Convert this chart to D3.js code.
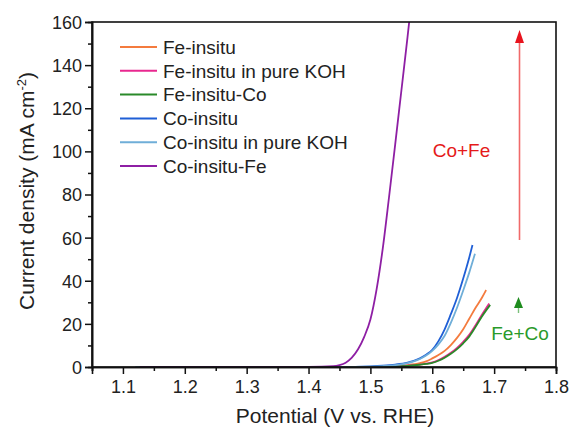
<!DOCTYPE html>
<html><head><meta charset="utf-8">
<script src="https://cdn.jsdelivr.net/npm/d3@7"></script>
<style>body{margin:0;background:#fff;} text{font-family:"Liberation Sans",Arial,sans-serif;}</style>
</head><body>
<svg id="c" width="573" height="430"></svg>
<script>
const seriesNames = ["Fe-insitu","Fe-insitu in pure KOH","Fe-insitu-Co","Co-insitu","Co-insitu in pure KOH","Co-insitu-Fe"];
const seriesColors = ["#F47B3E","#E8288F","#2A8A2A","#1F5FD6","#6FAED8","#8E1FA4"];
// [potential V, current mA cm-2]
const feInsitu = [[1.125,0],[1.45,0],[1.50,0.05],[1.52,0.15],[1.54,0.4],[1.56,0.9],[1.58,1.8],[1.59,2.6],[1.60,4.0],[1.61,5.6],[1.62,7.5],[1.63,10.2],[1.64,13.5],[1.65,17.5],[1.66,22.5],[1.67,27.5],[1.68,32],[1.687,35.7]];
const feInsituKOH = [[1.125,0],[1.45,0],[1.50,0.05],[1.52,0.12],[1.54,0.28],[1.56,0.6],[1.58,1.15],[1.59,1.55],[1.60,2.1],[1.61,3.2],[1.62,4.7],[1.63,6.6],[1.64,8.9],[1.65,11.7],[1.66,15.0],[1.67,19.4],[1.68,24.1],[1.692,29.4]];
const feInsituCo = [[1.125,0],[1.45,0],[1.50,0.04],[1.52,0.1],[1.54,0.25],[1.56,0.55],[1.58,1.05],[1.59,1.4],[1.60,1.9],[1.61,2.9],[1.62,4.3],[1.63,6.1],[1.64,8.3],[1.65,11],[1.66,14.2],[1.67,18.6],[1.68,23.3],[1.6936,28.8]];
const coInsitu = [[1.125,0],[1.45,0],[1.50,0.3],[1.52,0.6],[1.54,1.1],[1.56,2.0],[1.57,2.8],[1.58,4.0],[1.59,5.7],[1.60,8.0],[1.61,12],[1.62,17.5],[1.63,24.5],[1.64,32],[1.65,41],[1.66,51],[1.665,56.6]];
const coInsituKOH = [[1.12,0],[1.45,0],[1.50,0.2],[1.52,0.45],[1.54,0.9],[1.56,1.8],[1.57,2.6],[1.58,3.7],[1.59,5.3],[1.60,7.5],[1.61,10.5],[1.62,14.5],[1.63,20.5],[1.64,27.5],[1.65,35.5],[1.66,44],[1.669,52.5]];
const coInsituFe = [[1.127,0],[1.30,0],[1.40,0.1],[1.44,0.4],[1.45,0.9],[1.46,2.0],[1.47,4.3],[1.48,8.2],[1.49,14],[1.50,22],[1.51,36],[1.52,55],[1.53,78.5],[1.54,103],[1.55,128],[1.56,153],[1.565,166]];
const seriesData = [feInsitu, feInsituKOH, feInsituCo, coInsitu, coInsituKOH, coInsituFe];
const xTicks = [1.1,1.2,1.3,1.4,1.5,1.6,1.7,1.8];
const yTicks = [0,20,40,60,80,100,120,140,160];

const svg = d3.select("#c");
const L=92,R=556,T=22,B=367;
const x = d3.scaleLinear().domain([1.05,1.8]).range([L,R]);
const y = d3.scaleLinear().domain([0,160]).range([B,T]);

svg.append("clipPath").attr("id","clip").append("rect").attr("x",L).attr("y",T).attr("width",R-L).attr("height",B-T);

const line = d3.line().x(d=>x(d[0])).y(d=>y(d[1])).curve(d3.curveMonotoneX);
const g = svg.append("g").attr("clip-path","url(#clip)");
[0,1,2,3,4,5].forEach(i=>{
  g.append("path").datum(seriesData[i]).attr("d",line).attr("fill","none")
   .attr("stroke",seriesColors[i]).attr("stroke-width",1.8);
});

// frame
svg.append("rect").attr("x",L).attr("y",T).attr("width",R-L).attr("height",B-T)
  .attr("fill","none").attr("stroke","#111").attr("stroke-width",1.6);

// axes
const xa = svg.append("g").attr("transform",`translate(0,${B})`)
  .call(d3.axisBottom(x).tickValues(xTicks).tickSize(7).tickPadding(6).tickFormat(d3.format(".1f")));
const xm = svg.append("g").attr("transform",`translate(0,${B})`)
  .call(d3.axisBottom(x).tickValues(d3.range(1.05,1.8,0.1)).tickSize(4).tickFormat(""));
const ya = svg.append("g").attr("transform",`translate(${L},0)`)
  .call(d3.axisLeft(y).tickValues(yTicks).tickSize(7).tickPadding(3));
const ym = svg.append("g").attr("transform",`translate(${L},0)`)
  .call(d3.axisLeft(y).tickValues(d3.range(10,160,20)).tickSize(4).tickFormat(""));
[xa,xm,ya,ym].forEach(a=>{
  a.select(".domain").attr("stroke","#111").attr("stroke-width",1.6);
  a.selectAll(".tick line").attr("stroke","#111").attr("stroke-width",1.5);
  a.selectAll("text").attr("font-size",18).attr("fill","#222").attr("font-family","Liberation Sans, Arial, sans-serif");
});
ya.selectAll("text").attr("dy","0.36em");

// axis titles
svg.append("text").attr("x",335).attr("y",423).attr("text-anchor","middle")
  .attr("font-size",21).attr("fill","#222").text("Potential (V vs. RHE)");
const yt = svg.append("text").attr("transform","translate(34,191) rotate(-90)").attr("text-anchor","middle")
  .attr("font-size",21).attr("fill","#222");
yt.append("tspan").text("Current density (mA cm");
yt.append("tspan").attr("font-size",13).attr("dy",-8).text("-2");
yt.append("tspan").attr("dy",8).text(")");

// legend
const lg = svg.append("g");
seriesNames.forEach((n,i)=>{
  const yy = 47 + i*23.8;
  lg.append("line").attr("x1",120).attr("x2",157).attr("y1",yy).attr("y2",yy)
    .attr("stroke",seriesColors[i]).attr("stroke-width",2);
  lg.append("text").attr("x",163).attr("y",yy).attr("dy","0.36em").attr("font-size",19)
    .attr("fill","#222").text(n);
});

// annotations
svg.append("line").attr("x1",519.5).attr("x2",519.5).attr("y1",240).attr("y2",42)
  .attr("stroke","#F06A6A").attr("stroke-width",1.6);
svg.append("path").attr("d","M519.5,30 L524,43 L515,43 Z").attr("fill","#E8141E");
svg.append("text").attr("x",461.5).attr("y",157).attr("text-anchor","middle").attr("font-size",19)
  .attr("fill","#E51A1A").text("Co+Fe");
svg.append("line").attr("x1",518.5).attr("x2",518.5).attr("y1",313).attr("y2",305)
  .attr("stroke","#7CC07C").attr("stroke-width",1.4);
svg.append("path").attr("d","M518.5,297 L523,308 L514,308 Z").attr("fill","#1E8C1E");
svg.append("text").attr("x",520).attr("y",340).attr("text-anchor","middle").attr("font-size",19)
  .attr("fill","#2A9A2A").text("Fe+Co");
</script>
</body></html>
